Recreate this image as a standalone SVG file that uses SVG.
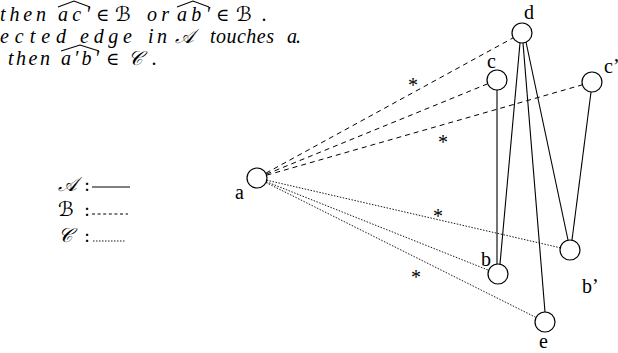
<svg xmlns="http://www.w3.org/2000/svg" width="618" height="353" viewBox="0 0 618 353">
<style>
.node{fill:#fff;stroke:#000;stroke-width:1.2}
.lbl{font-family:"Liberation Serif",serif;font-size:20px;fill:#000}
.ast{font-family:"Liberation Serif",serif;font-size:20px;fill:#000}
.math{font-family:"Liberation Serif","DejaVu Serif",serif;font-style:italic;font-size:20px;fill:#000}
.sym{font-family:"DejaVu Serif","Liberation Serif",serif;font-style:normal;font-size:18px;fill:#000}
.cal{font-family:"DejaVu Sans","Noto Sans",serif;font-style:italic;font-size:20px;fill:#000}
.hat{fill:none;stroke:#000;stroke-width:1.1}
.solid{stroke:#000;stroke-width:1.1;fill:none}
.dash{stroke:#000;stroke-width:1;stroke-dasharray:5,4;fill:none}
.dot{stroke:#000;stroke-width:0.9;stroke-dasharray:1.5,1.5;fill:none}
</style>
<rect width="618" height="353" fill="#fff"/>
<g id="text">
<text class="math" x="0" y="21" textLength="46" lengthAdjust="spacing">then</text>
<text class="math" x="58" y="21" textLength="32" lengthAdjust="spacing">ac′</text>
<text class="sym" x="96" y="21">∈</text>
<text class="cal" x="115" y="21">ℬ</text>
<text class="math" x="147" y="21" textLength="22" lengthAdjust="spacing">or</text>
<text class="math" x="177" y="21" textLength="33" lengthAdjust="spacing">ab′</text>
<text class="sym" x="216" y="21">∈</text>
<text class="cal" x="236" y="21">ℬ</text>
<text class="math" x="262" y="21">.</text>
<path class="hat" d="M58,7 L74,1 L90,7 M177,7 L193,1 L209,7"/>
<text class="math" x="0" y="43" textLength="66" lengthAdjust="spacing">ected</text>
<text class="math" x="80" y="43" textLength="52" lengthAdjust="spacing">edge</text>
<text class="math" x="148" y="43" textLength="19" lengthAdjust="spacing">in</text>
<text class="cal" x="175" y="43">𝒜</text>
<text class="math" x="210" y="43" textLength="64" lengthAdjust="spacing">touches</text>
<text class="math" x="287" y="43" textLength="14" lengthAdjust="spacing">a.</text>
<text class="math" x="8" y="65" textLength="42" lengthAdjust="spacing">then</text>
<text class="math" x="61" y="65" textLength="38" lengthAdjust="spacing">a′b′</text>
<text class="sym" x="106" y="65">∈</text>
<text class="cal" x="128" y="65">𝒞</text>
<text class="math" x="152" y="65">.</text>
<path class="hat" d="M61,51 L80,45 L99,51"/>
</g>
<g id="legend">
<text class="cal" x="58" y="191">𝒜</text>
<text class="sym" x="84" y="191">:</text>
<line class="solid" x1="92" y1="187" x2="130" y2="187"/>
<text class="cal" x="58" y="216">ℬ</text>
<text class="sym" x="84" y="216">:</text>
<line class="dash" x1="92" y1="214" x2="128" y2="214" style="stroke-dasharray:3,2.6"/>
<text class="cal" x="58" y="242">𝒞</text>
<text class="sym" x="84" y="242">:</text>
<line class="dot" x1="93" y1="241" x2="125" y2="241"/>
</g>
<g id="connectors">
<line class="dash" x1="265.8" y1="173.2" x2="513.2" y2="37.8"/>
<line class="dash" x1="266.3" y1="174.2" x2="487.7" y2="83.8"/>
<line class="dash" x1="266.6" y1="175.2" x2="582.4" y2="84.8"/>
<line class="dot" x1="266.7" y1="180.2" x2="560.3" y2="247.8"/>
<line class="dot" x1="266.3" y1="181.7" x2="488.7" y2="270.3"/>
<line class="dot" x1="265.9" y1="182.5" x2="536.1" y2="317.5"/>
<line class="solid" x1="497" y1="90" x2="497" y2="264"/>
<line class="solid" x1="520" y1="43" x2="500" y2="264"/>
<line class="solid" x1="523" y1="43" x2="545" y2="312"/>
<line class="solid" x1="526" y1="42" x2="568" y2="240"/>
<line class="solid" x1="591" y1="92" x2="572" y2="240"/>
<text class="ast" x="408" y="92">*</text>
<text class="ast" x="438" y="149">*</text>
<text class="ast" x="433" y="223">*</text>
<text class="ast" x="411" y="284">*</text>
</g>
<g id="a"><circle class="node" cx="257" cy="178" r="10"/><text class="lbl" x="235" y="199">a</text></g>
<g id="c"><circle class="node" cx="497" cy="80" r="10"/><text class="lbl" x="487" y="68">c</text></g>
<g id="d"><circle class="node" cx="522" cy="33" r="10"/><text class="lbl" x="524" y="19">d</text></g>
<g id="c2"><circle class="node" cx="592" cy="82" r="10"/><text class="lbl" x="604" y="73">c’</text></g>
<g id="b"><circle class="node" cx="498" cy="274" r="10"/><text class="lbl" x="481" y="266">b</text></g>
<g id="b2"><circle class="node" cx="570" cy="250" r="10"/><text class="lbl" x="582" y="293">b’</text></g>
<g id="e"><circle class="node" cx="545" cy="322" r="10"/><text class="lbl" x="539" y="348">e</text></g>
</svg>
